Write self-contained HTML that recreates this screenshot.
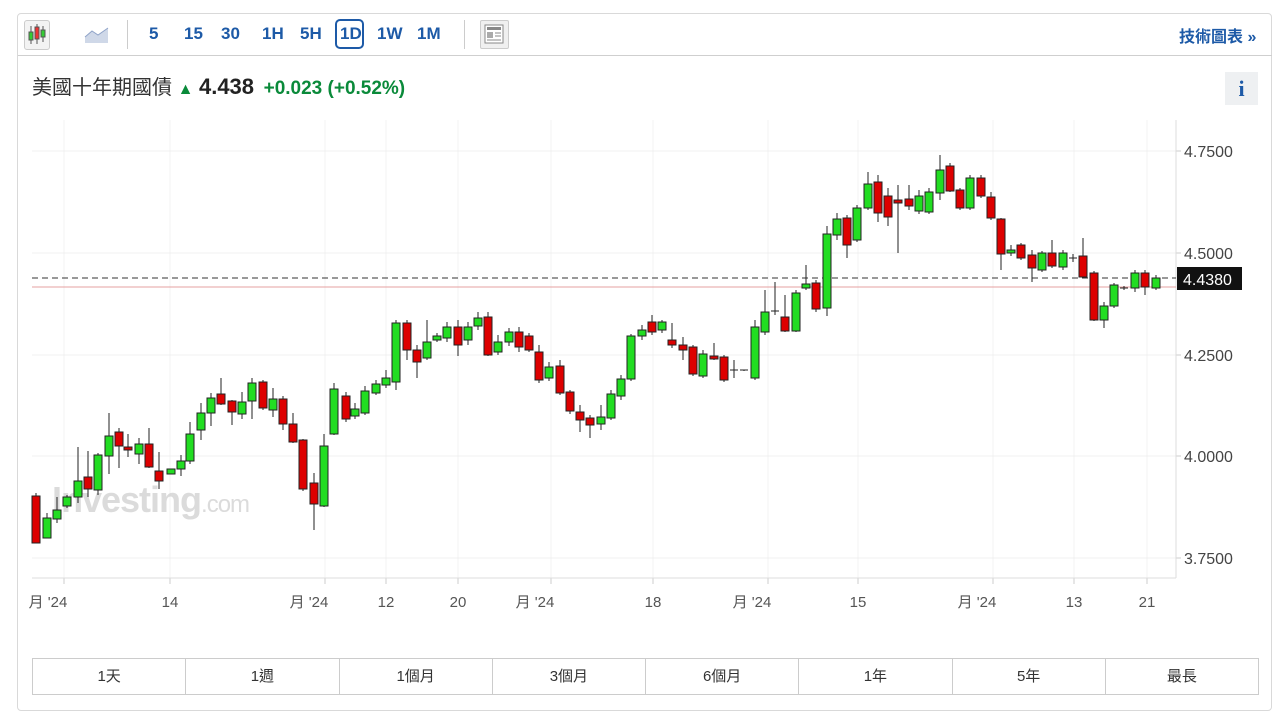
<!DOCTYPE html>
<html><head><meta charset="utf-8"><style>
body{margin:0;background:#fff;font-family:"Liberation Sans","Noto Sans CJK TC",sans-serif;}
#f{position:absolute;left:17px;top:13px;width:1255px;height:698px;border:1px solid #d9d9d9;border-radius:4px;box-sizing:border-box}
.t{position:absolute;font-size:17px;font-weight:bold;color:#1d5aa7}
.b{flex:1;border-right:1px solid #ccc;text-align:center;line-height:35px;font-size:15px;color:#333}
</style></head><body>
<div id="f"></div>
<div style="position:absolute;left:18px;top:55px;width:1254px;height:1px;background:#cfcfcf"></div>
<div style="position:absolute;left:24px;top:20px;width:24px;height:28px;border:1px solid #ccc;border-radius:3px;background:#f3f3f3"></div>
<svg style="position:absolute;left:26px;top:22px" width="22" height="26"><line x1="5" y1="4" x2="5" y2="22" stroke="#555"/><rect x="3" y="10" width="4" height="8" fill="#3c3" stroke="#555"/><line x1="11" y1="2" x2="11" y2="22" stroke="#555"/><rect x="9" y="5" width="4" height="12" fill="#e33" stroke="#555"/><line x1="17" y1="4" x2="17" y2="20" stroke="#555"/><rect x="15" y="8" width="4" height="7" fill="#3c3" stroke="#555"/></svg>
<svg style="position:absolute;left:84px;top:25px" width="26" height="20"><path d="M1 12 L8 6 L14 10 L24 3 L24 18 L1 18Z" fill="#cfd8e8"/><path d="M1 12 L8 6 L14 10 L24 3" stroke="#8fa3c8" fill="none"/></svg>
<div style="position:absolute;left:127px;top:20px;width:1px;height:29px;background:#ccc"></div>
<div style="position:absolute;left:464px;top:20px;width:1px;height:29px;background:#ccc"></div>
<div class="t" style="left:149px;top:24px">5</div><div class="t" style="left:184px;top:24px">15</div><div class="t" style="left:221px;top:24px">30</div><div class="t" style="left:262px;top:24px">1H</div><div class="t" style="left:300px;top:24px">5H</div>
<div style="position:absolute;left:335px;top:19px;width:29px;height:30px;border:2px solid #1d5aa7;border-radius:5px;box-sizing:border-box"></div>
<div class="t" style="left:340px;top:24px">1D</div><div class="t" style="left:377px;top:24px">1W</div><div class="t" style="left:417px;top:24px">1M</div>
<div style="position:absolute;left:480px;top:20px;width:27px;height:27px;border:1px solid #ccc;border-radius:2px;background:#f0f0f0"></div>
<svg style="position:absolute;left:484px;top:24px" width="20" height="20"><rect x="1" y="1" width="18" height="18" fill="#fff" stroke="#888"/><rect x="3" y="3" width="14" height="3" fill="#888"/><rect x="3" y="8" width="6" height="6" fill="#aaa"/><line x1="11" y1="9" x2="17" y2="9" stroke="#888"/><line x1="11" y1="12" x2="17" y2="12" stroke="#888"/><line x1="3" y1="16" x2="17" y2="16" stroke="#888"/></svg>
<div class="t" style="left:1179px;top:23px;font-size:16px">技術圖表 »</div>
<div style="position:absolute;left:32px;top:71px;font-size:20px;color:#333">美國十年期國債 <span style="color:#0a8a3a;font-size:16px">▲</span> <b style="font-size:22px;color:#222">4.438</b> <b style="color:#0a8a3a;font-size:19px;margin-left:4px">+0.023 (+0.52%)</b></div>
<div style="position:absolute;left:1225px;top:72px;width:33px;height:33px;background:#eef0f2;color:#1d5aa7;font:bold 22px 'Liberation Serif',serif;text-align:center;line-height:33px">i</div>
<svg id="c" style="position:absolute;left:0;top:0" width="1280" height="721"></svg>
<div style="position:absolute;left:32px;top:658px;width:1227px;height:37px;border:1px solid #ccc;box-sizing:border-box;display:flex">
<div class="b">1天</div><div class="b">1週</div><div class="b">1個月</div><div class="b">3個月</div><div class="b">6個月</div><div class="b">1年</div><div class="b">5年</div><div class="b" style="border:none">最長</div></div>
<script>
const d=[[36,496,543,493,543,0],[47,518,538,513,538,1],[57,510,519,497,523,1],[67,497,506,495,508,1],[78,481,497,447,503,1],[88,477,489,451,497,0],[98,455,490,453,495,1],[109,436,456,413,474,1],[119,432,446,428,468,0],[128,447,450,434,457,0],[139,444,454,438,464,1],[149,444,467,428,468,0],[159,471,481,452,489,0],[171,469,474,469,474,1],[181,461,469,455,476,1],[190,434,461,422,464,1],[201,413,430,403,440,1],[211,398,413,393,426,1],[221,394,404,378,405,0],[232,401,412,400,425,0],[242,402,414,392,419,1],[252,383,401,378,419,1],[263,382,408,380,410,0],[273,399,410,388,417,1],[283,399,424,396,430,0],[293,424,442,413,443,0],[303,440,489,439,491,0],[314,483,504,473,530,0],[324,446,506,434,507,1],[334,389,434,383,435,1],[346,396,419,392,422,0],[355,409,416,403,419,1],[365,391,413,386,415,1],[376,384,393,380,395,1],[386,378,385,370,388,1],[396,323,382,320,390,1],[407,323,350,320,360,0],[417,350,362,345,378,0],[427,342,358,320,360,1],[437,336,340,333,342,1],[447,327,338,322,342,1],[458,327,345,320,356,0],[468,327,340,322,345,1],[478,318,326,312,330,1],[488,317,355,312,356,0],[498,342,352,335,355,1],[509,332,342,328,346,1],[519,332,347,327,352,0],[529,336,350,333,352,0],[539,352,380,345,383,0],[549,367,378,362,381,1],[560,366,393,360,395,0],[570,392,411,390,414,0],[580,412,420,405,432,0],[590,418,425,415,438,0],[601,417,424,405,430,1],[611,394,418,390,420,1],[621,379,396,375,400,1],[631,336,379,334,381,1],[642,330,336,325,340,1],[652,322,332,315,335,0],[662,322,330,320,333,1],[672,340,345,323,348,0],[683,345,350,337,360,0],[693,347,374,345,376,0],[703,354,376,350,378,1],[714,356,359,343,360,0],[724,357,380,355,382,0],[734,370,371,360,378,1],[744,370,371,370,371,1],[755,327,378,320,380,1],[765,312,332,290,335,1],[775,311,313,282,315,0],[785,317,331,295,332,0],[796,293,331,290,332,1],[806,284,288,265,290,1],[816,283,309,280,312,0],[827,234,308,226,316,1],[837,219,235,213,240,1],[847,218,245,215,258,0],[857,208,240,205,242,1],[868,184,208,172,210,1],[878,182,213,175,222,0],[888,196,217,188,226,0],[898,200,203,185,253,0],[909,199,206,185,210,0],[919,196,211,190,214,1],[929,192,212,188,214,1],[940,170,193,155,200,1],[950,166,191,163,192,0],[960,190,208,188,210,0],[970,178,208,175,210,1],[981,178,196,175,198,0],[991,197,218,192,220,0],[1001,219,254,218,270,0],[1011,250,253,245,256,1],[1021,245,258,243,260,0],[1032,255,268,250,282,0],[1042,253,270,251,272,1],[1052,253,266,240,268,0],[1063,253,267,250,270,1],[1073,258,259,254,262,1],[1083,256,277,238,278,0],[1094,273,320,271,321,0],[1104,306,320,302,328,1],[1114,285,306,283,308,1],[1124,288,289,286,290,1],[1135,273,288,270,292,1],[1145,273,287,270,295,0],[1156,278,288,275,290,1]];
let s='';
const xs=[[48,'月 \'24'],[170,'14'],[309,'月 \'24'],[386,'12'],[458,'20'],[535,'月 \'24'],[653,'18'],[752,'月 \'24'],[858,'15'],[977,'月 \'24'],[1074,'13'],[1147,'21']];
for(const[x,l]of xs){const gx=l.includes('月')?x+16:x;s+=`<line x1="${gx}" y1="120" x2="${gx}" y2="578" stroke="#f3f3f3"/><line x1="${gx}" y1="578" x2="${gx}" y2="584" stroke="#ccc"/><text x="${x}" y="607" font-size="15" fill="#555" text-anchor="middle" font-family="Liberation Sans,Noto Sans CJK TC,sans-serif">${l}</text>`;}
const ys=[[151,'4.7500'],[253,'4.5000'],[355,'4.2500'],[456,'4.0000'],[558,'3.7500']];
for(const[y,l]of ys){s+=`<line x1="32" y1="${y}" x2="1176" y2="${y}" stroke="#f0f0f0"/><line x1="1176" y1="${y}" x2="1181" y2="${y}" stroke="#ccc"/><text x="1184" y="${y+6}" font-size="16" fill="#444" font-family="Liberation Sans,sans-serif">${l}</text>`;}
s+=`<line x1="32" y1="578" x2="1176" y2="578" stroke="#ddd"/><line x1="1176" y1="120" x2="1176" y2="578" stroke="#ddd"/>`;
s+=`<text x="52" y="512" font-size="36" font-weight="bold" fill="#ccc" opacity="0.7" font-family="Liberation Sans,sans-serif" letter-spacing="-1">Investing<tspan font-weight="normal" font-size="24">.com</tspan></text>`;
s+=`<line x1="32" y1="287" x2="1176" y2="287" stroke="#e6a0a0"/><line x1="32" y1="278" x2="1176" y2="278" stroke="#333" stroke-dasharray="6,4"/>`;
for(const[x,o,c,h,l,g]of d){s+=`<line x1="${x}" y1="${h}" x2="${x}" y2="${l}" stroke="#222"/>`;const hh=Math.max(1,c-o);s+=hh<=2?`<line x1="${x-4}" y1="${o}" x2="${x+4}" y2="${o}" stroke="#222"/>`:`<rect x="${x-4}" y="${o}" width="8" height="${hh}" fill="${g?'#22dd22':'#dd0000'}" stroke="#222"/>`;}
s+=`<rect x="1177" y="267" width="65" height="23" fill="#111"/><text x="1183" y="285" font-size="16" fill="#fff" font-family="Liberation Sans,sans-serif">4.4380</text>`;
document.getElementById('c').innerHTML=s;
</script>
</body></html>
